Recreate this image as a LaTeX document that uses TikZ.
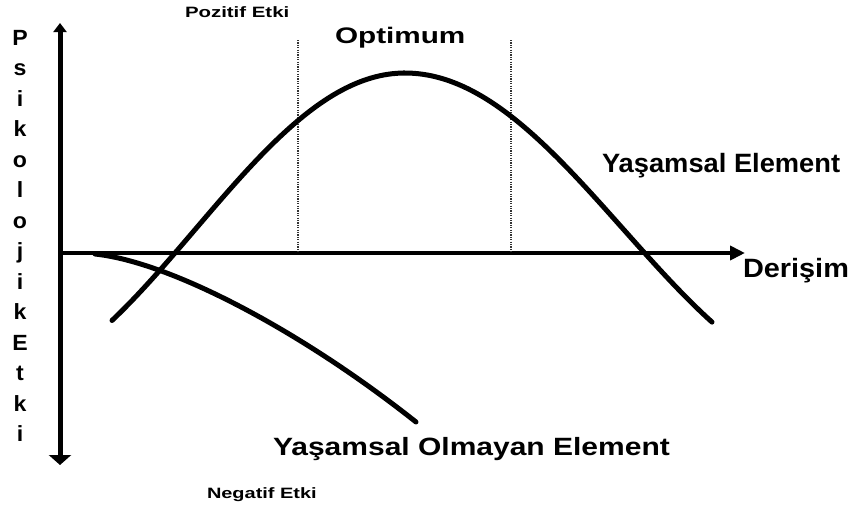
\documentclass[tikz,border=0pt]{standalone}
\usepackage{fontspec}
\usepackage{graphicx}
\setmainfont{Liberation Sans}
\usetikzlibrary{arrows.meta}
\newcommand{\lbl}[3]{\scalebox{#1}[1]{\fontsize{#2}{#2}\selectfont\bfseries #3}}
\tikzset{
  axisline/.style={line width=5pt},
  curveline/.style={line width=5pt, line cap=round},
  guide/.style={line width=2.2pt, dash pattern=on 1.2pt off 1.2pt, black!80},
  txt/.style={inner sep=0pt, outer sep=0pt, anchor=base west},
  vlet/.style={inner sep=0pt, outer sep=0pt, anchor=base}
}
\begin{document}
\begin{tikzpicture}[x=1pt,y=-1pt]
\useasboundingbox (0,0) rectangle (865,506);
% axes
\coordinate (ytop) at (60,23);
\coordinate (ybot) at (60,465);
\coordinate (xo) at (60,253);
\coordinate (xend) at (745,253);
\draw[axisline, arrows={Triangle[length=9pt,width=13pt]-Triangle[length=10pt,width=22pt]}] (ytop) -- (ybot);
\draw[line width=4.5pt, -{Triangle[length=15pt,width=14pt]}] (xo) -- (xend);
% dotted guides
\coordinate (g1t) at (298,40); \coordinate (g1b) at (298,253);
\coordinate (g2t) at (511,40); \coordinate (g2b) at (511,253);
\draw[guide] (g1t) -- (g1b);
\draw[guide] (g2t) -- (g2b);
% essential element curve
\draw[curveline] plot[domain=112:405, samples=70] (\x, {73+156*(1-cos(0.4297*(\x-405)))})
  -- plot[domain=405:712, samples=70] (\x, {73+156*(1-cos(0.4125*(\x-405)))});
% non-essential element curve
\coordinate (ns) at (95,254);
\coordinate (ne) at (416,422);
\draw[curveline] (ns) .. controls (170,262) and (300,330) .. (ne);
% labels
\node[txt] (poz) at (185,17) {\lbl{1.36}{15}{Pozitif Etki}};
\node[txt] (opt) at (335,43) {\lbl{1.32}{22.5}{Optimum}};
\node[txt] (yas) at (602,172) {\lbl{1.03}{26.5}{Yaşamsal Element}};
\node[txt] (der) at (743,277) {\lbl{1.09}{26.5}{Derişim}};
\node[txt] (yol) at (273,455) {\lbl{1.2}{25}{Yaşamsal Olmayan Element}};
\node[txt] (neg) at (207,498) {\lbl{1.33}{15}{Negatif Etki}};
% vertical label
\foreach \ch [count=\i from 0] in {P,s,i,k,o,l,o,j,i,k,E,t,k,i}{
  \node[vlet] (v\i) at (20,{45+\i*30.5}) {\lbl{1.05}{22}{\ch}};
}
\end{tikzpicture}
\end{document}
